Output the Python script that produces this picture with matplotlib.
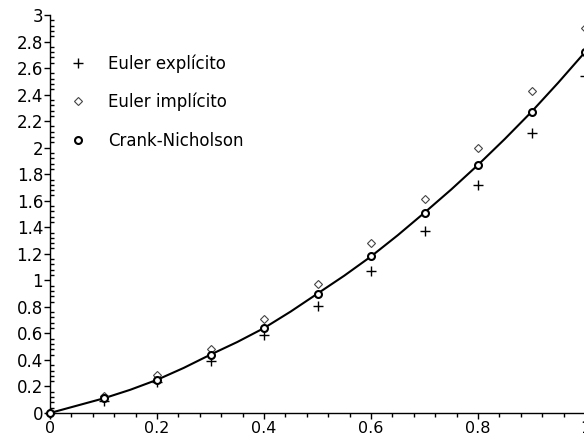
import matplotlib
matplotlib.use('Agg')
import matplotlib.pyplot as plt
from matplotlib.ticker import MultipleLocator, FuncFormatter

plt.rcParams['font.family'] = ['DejaVu Sans']

# valores
t = [0.0, 0.1, 0.2, 0.3, 0.4, 0.5, 0.6, 0.7, 0.8, 0.9, 1.0]
euler_expl = [0.0, 0.09, 0.23, 0.39, 0.59, 0.81, 1.07, 1.37, 1.72, 2.11, 2.54]
euler_impl = [0.0, 0.13, 0.29, 0.48, 0.71, 0.97, 1.28, 1.61, 2.00, 2.43, 2.90]
crank = [0.0, 0.11, 0.25, 0.44, 0.64, 0.90, 1.18, 1.51, 1.87, 2.27, 2.72]

# solucion exacta (curva continua)
t_exact = [0.0, 0.05, 0.1, 0.15, 0.2, 0.25, 0.3, 0.35, 0.4, 0.45, 0.5,
           0.55, 0.6, 0.65, 0.7, 0.75, 0.8, 0.85, 0.9, 0.95, 1.0]
y_exact = [0.0, 0.055, 0.11, 0.175, 0.25, 0.34, 0.44, 0.535, 0.64, 0.765, 0.90,
           1.035, 1.18, 1.34, 1.51, 1.685, 1.87, 2.065, 2.27, 2.49, 2.72]

W, H = 584, 440
fig = plt.figure(figsize=(W / 100, H / 100), dpi=100)
ax = fig.add_axes([50 / W, (H - 413) / H, 535 / W, 398 / H])

ax.plot(t_exact, y_exact, color='black', lw=1.5, zorder=2, clip_on=False)
ax.plot(t, euler_expl, ls='none', marker='+', ms=7, mew=1.0, color='black',
        label='Euler explícito', zorder=3, clip_on=False)
ax.plot(t, euler_impl, ls='none', marker='D', ms=4, mew=0.8, mfc='white',
        mec='#444444', label='Euler implícito', zorder=3, clip_on=False)
ax.plot(t, crank, ls='none', marker='o', ms=5, mew=1.5, mfc='white',
        mec='black', label='Crank-Nicholson', zorder=4, clip_on=False)

ax.set_xlim(0, 1)
ax.set_ylim(0, 3)
ax.spines['top'].set_visible(False)
ax.spines['right'].set_visible(False)
ax.spines['left'].set_linewidth(1)
ax.spines['bottom'].set_linewidth(1)

ax.xaxis.set_major_locator(MultipleLocator(0.2))
ax.xaxis.set_minor_locator(MultipleLocator(0.04))
ax.yaxis.set_major_locator(MultipleLocator(0.2))
ax.yaxis.set_minor_locator(MultipleLocator(0.04))

fmt = FuncFormatter(lambda v, p: ('%g' % round(v, 2)))
ax.xaxis.set_major_formatter(fmt)
ax.yaxis.set_major_formatter(fmt)

ax.tick_params(axis='x', which='major', direction='out', length=4, width=1,
               labelsize=11.5, pad=2)
ax.tick_params(axis='x', which='minor', direction='out', length=3, width=1)
ax.tick_params(axis='y', which='major', direction='out', length=4, width=1,
               labelsize=12, pad=1)
ax.tick_params(axis='y', which='minor', direction='in', length=3, width=1)

leg = ax.legend(loc='upper left', bbox_to_anchor=(70 / W, 1 - 54 / H),
                bbox_transform=fig.transFigure, frameon=False, fontsize=12,
                handlelength=1.0, handletextpad=1.3, labelspacing=1.22,
                borderpad=0, borderaxespad=0, numpoints=1)

fig.savefig('out.png', dpi=100)
